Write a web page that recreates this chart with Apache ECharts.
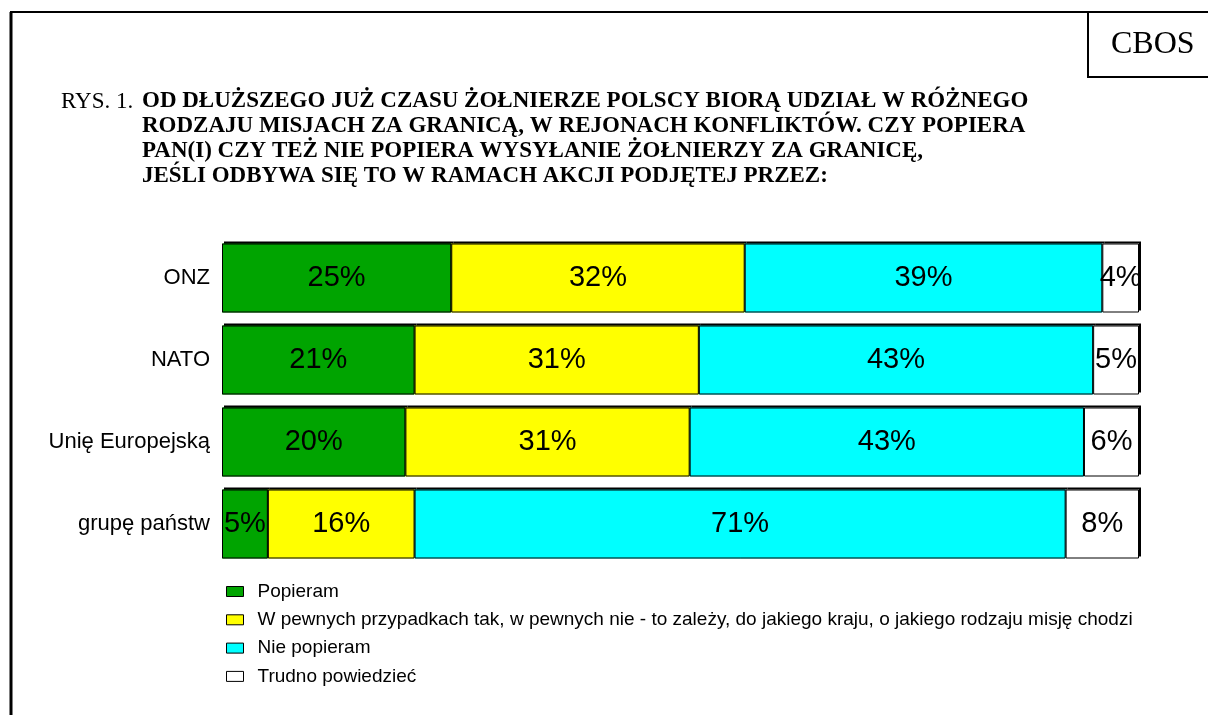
<!DOCTYPE html>
<html>
<head>
<meta charset="utf-8">
<title>CBOS - Rys. 1</title>
<script src="https://cdn.jsdelivr.net/npm/echarts@6/dist/echarts.min.js"></script>
<style>
  html, body { margin: 0; padding: 0; background: #fff; }
  #chart { width: 1208px; height: 715px; }
</style>
</head>
<body>
<div id="chart"></div>
<script>
// dane z rysunku (odsetki)
const categories = ['ONZ', 'NATO', 'Unię Europejską', 'grupę państw']
const seriesNames = [
  'Popieram',
  'W pewnych przypadkach tak, w pewnych nie - to zależy, do jakiego kraju, o jakiego rodzaju misję chodzi',
  'Nie popieram',
  'Trudno powiedzieć'
]
const popieram = [25, 21, 20, 5]
const zalezy = [32, 31, 31, 16]
const niePopieram = [39, 43, 43, 71]
const trudno = [4, 5, 6, 8]
const seriesColors = ['#00a400', '#ffff00', '#00ffff', '#ffffff']

const titleLines = [
  'OD DŁUŻSZEGO JUŻ CZASU ŻOŁNIERZE POLSCY BIORĄ UDZIAŁ W RÓŻNEGO',
  'RODZAJU MISJACH ZA GRANICĄ, W REJONACH KONFLIKTÓW. CZY POPIERA',
  'PAN(I) CZY TEŻ NIE POPIERA WYSYŁANIE ŻOŁNIERZY ZA GRANICĘ,',
  'JEŚLI ODBYWA SIĘ TO W RAMACH AKCJI PODJĘTEJ PRZEZ:'
]

const sansFont = '"Liberation Sans", Arial, sans-serif'
const serifFont = '"Liberation Serif", "Times New Roman", serif'

const chart = echarts.init(document.getElementById('chart'))

const values = [popieram, zalezy, niePopieram, trudno]

// wypełnienie z cieniem (góra + prawa krawędź)
const fillSeries = values.map((data, i) => ({
  name: seriesNames[i],
  type: 'bar',
  stack: 'total',
  data: data,
  barWidth: 69,
  itemStyle: {
    color: seriesColors[i],
    borderWidth: 0,
    shadowColor: '#000',
    shadowOffsetX: 2,
    shadowOffsetY: -2,
    shadowBlur: 0
  },
  label: {
    show: true,
    position: 'inside',
    formatter: '{c}%',
    color: '#000',
    fontFamily: sansFont,
    fontSize: 29
  }
}))

// same obrysy segmentów (bez cienia), nałożone na wypełnienie
const outlineSeries = values.map((data, i) => ({
  name: 'obrys ' + i,
  type: 'bar',
  stack: 'outline',
  data: data,
  barWidth: 69,
  barGap: '-100%',
  silent: true,
  itemStyle: {
    color: 'rgba(0,0,0,0)',
    borderColor: '#000',
    borderWidth: 1
  }
}))

const option = {
  animation: false,
  backgroundColor: '#fff',
  title: [
    {
      text: 'RYS. 1.',
      left: 61,
      top: 89,
      padding: 0,
      textStyle: { fontFamily: serifFont, fontWeight: 'normal', fontSize: 23, lineHeight: 25, color: '#000' }
    },
    {
      text: titleLines.join('\n'),
      left: 142,
      top: 89,
      padding: 0,
      textStyle: { fontFamily: serifFont, fontWeight: 'bold', fontSize: 23, lineHeight: 25, color: '#000' }
    }
  ],
  grid: {
    left: 222,
    right: 69,
    top: 237,
    height: 328
  },
  xAxis: {
    type: 'value',
    min: 0,
    max: 100,
    show: false
  },
  yAxis: {
    type: 'category',
    data: categories,
    inverse: true,
    axisLine: { show: false },
    axisTick: { show: false },
    axisLabel: {
      margin: 12,
      color: '#000',
      fontFamily: sansFont,
      fontSize: 22
    }
  },
  legend: {
    orient: 'vertical',
    left: 226,
    top: 582,
    padding: 0,
    itemWidth: 17,
    itemHeight: 10,
    itemGap: 9.3,
    icon: 'rect',
    itemStyle: { borderColor: '#000', borderWidth: 1, shadowBlur: 0, shadowOffsetX: 0, shadowOffsetY: 0 },
    textStyle: {
      fontFamily: sansFont,
      fontSize: 19,
      lineHeight: 18,
      color: '#000',
      padding: [0, 0, 0, 9]
    },
    data: seriesNames
  },
  graphic: [
    // ramka rysunku
    { type: 'line', shape: { x1: 11, y1: 12, x2: 11, y2: 715 }, style: { stroke: '#000', lineWidth: 3 } },
    { type: 'line', shape: { x1: 10, y1: 12, x2: 1208, y2: 12 }, style: { stroke: '#000', lineWidth: 2 } },
    // pole CBOS
    { type: 'polyline', shape: { points: [[1088, 12], [1088, 77], [1208, 77]] }, style: { stroke: '#000', lineWidth: 2, fill: null } },
    {
      type: 'text',
      left: 1111,
      top: 29,
      style: { text: 'CBOS', font: '32px ' + serifFont, fill: '#000' }
    }
  ],
  series: fillSeries.concat(outlineSeries)
}

chart.setOption(option)
</script>
</body>
</html>
